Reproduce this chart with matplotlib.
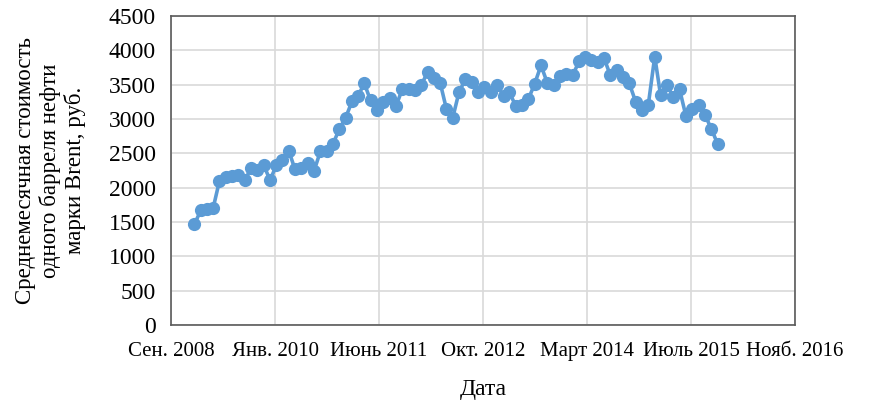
import matplotlib
matplotlib.use("Agg")
import matplotlib.pyplot as plt
import matplotlib.dates as mdates
import datetime as dt

start_year, start_month = 2009, 1
values = [1470, 1670, 1690, 1700, 2090, 2150, 2170, 2180, 2110, 2280,
          2260, 2330, 2110, 2330, 2410, 2540, 2270, 2290, 2360, 2240,
          2530, 2530, 2640, 2850, 3020, 3260, 3330, 3520, 3270, 3130,
          3250, 3310, 3190, 3430, 3430, 3420, 3500, 3680, 3600, 3530,
          3150, 3020, 3390, 3580, 3540, 3400, 3460, 3400, 3500, 3340,
          3390, 3190, 3200, 3290, 3510, 3780, 3520, 3500, 3620, 3650,
          3640, 3840, 3910, 3860, 3830, 3890, 3640, 3710, 3610, 3520,
          3250, 3130, 3210, 3910, 3350, 3500, 3320, 3430, 3050, 3150,
          3200, 3060, 2860, 2640]

tick_labels = ["Сен. 2008", "Янв. 2010", "Июнь 2011", "Окт. 2012",
               "Март 2014", "Июль 2015", "Нояб. 2016"]
y_ticks = [0, 500, 1000, 1500, 2000, 2500, 3000, 3500, 4000, 4500]

dates = []
for i in range(len(values)):
    m = start_month - 1 + i
    dates.append(dt.date(start_year + m // 12, m % 12 + 1, 1))

axis_start = dt.date(2008, 9, 10)
step = dt.timedelta(days=502)
tick_dates = [axis_start + step * k for k in range(len(tick_labels))]

plt.rcParams['font.family'] = ['Liberation Serif', 'DejaVu Serif']

fig = plt.figure(figsize=(8.74, 4.03), dpi=100)
ax = fig.add_axes([0.1957, 0.1935, 0.9096 - 0.1957, 0.9603 - 0.1935])

ax.plot(dates, values, color='#5B9BD5', lw=2.6, marker='o', ms=9.5,
        markeredgewidth=0, zorder=3)

ax.set_xlim(mdates.date2num(tick_dates[0]), mdates.date2num(tick_dates[-1]))
ax.set_xticks([mdates.date2num(d) for d in tick_dates])
ax.set_xticklabels(tick_labels)
ax.set_ylim(0, 4500)
ax.set_yticks(y_ticks)
ax.set_yticklabels([str(v) for v in y_ticks])

ax.grid(True, color='#d9d9d9', lw=1.2)
ax.set_axisbelow(True)
for s in ax.spines.values():
    s.set_color('#5a5a5a')
    s.set_linewidth(1.2)
ax.tick_params(length=0, colors='black')
ax.tick_params(axis='y', pad=11, labelsize=17)
ax.tick_params(axis='x', pad=12, labelsize=15)

ax.set_xlabel("Дата", fontsize=17, labelpad=13)
ax.set_ylabel("Среднемесячная стоимость\nодного барреля нефти\nмарки Brent, руб.",
              fontsize=16.5, labelpad=16, linespacing=1.2)

fig.savefig("out.png", dpi=100)
